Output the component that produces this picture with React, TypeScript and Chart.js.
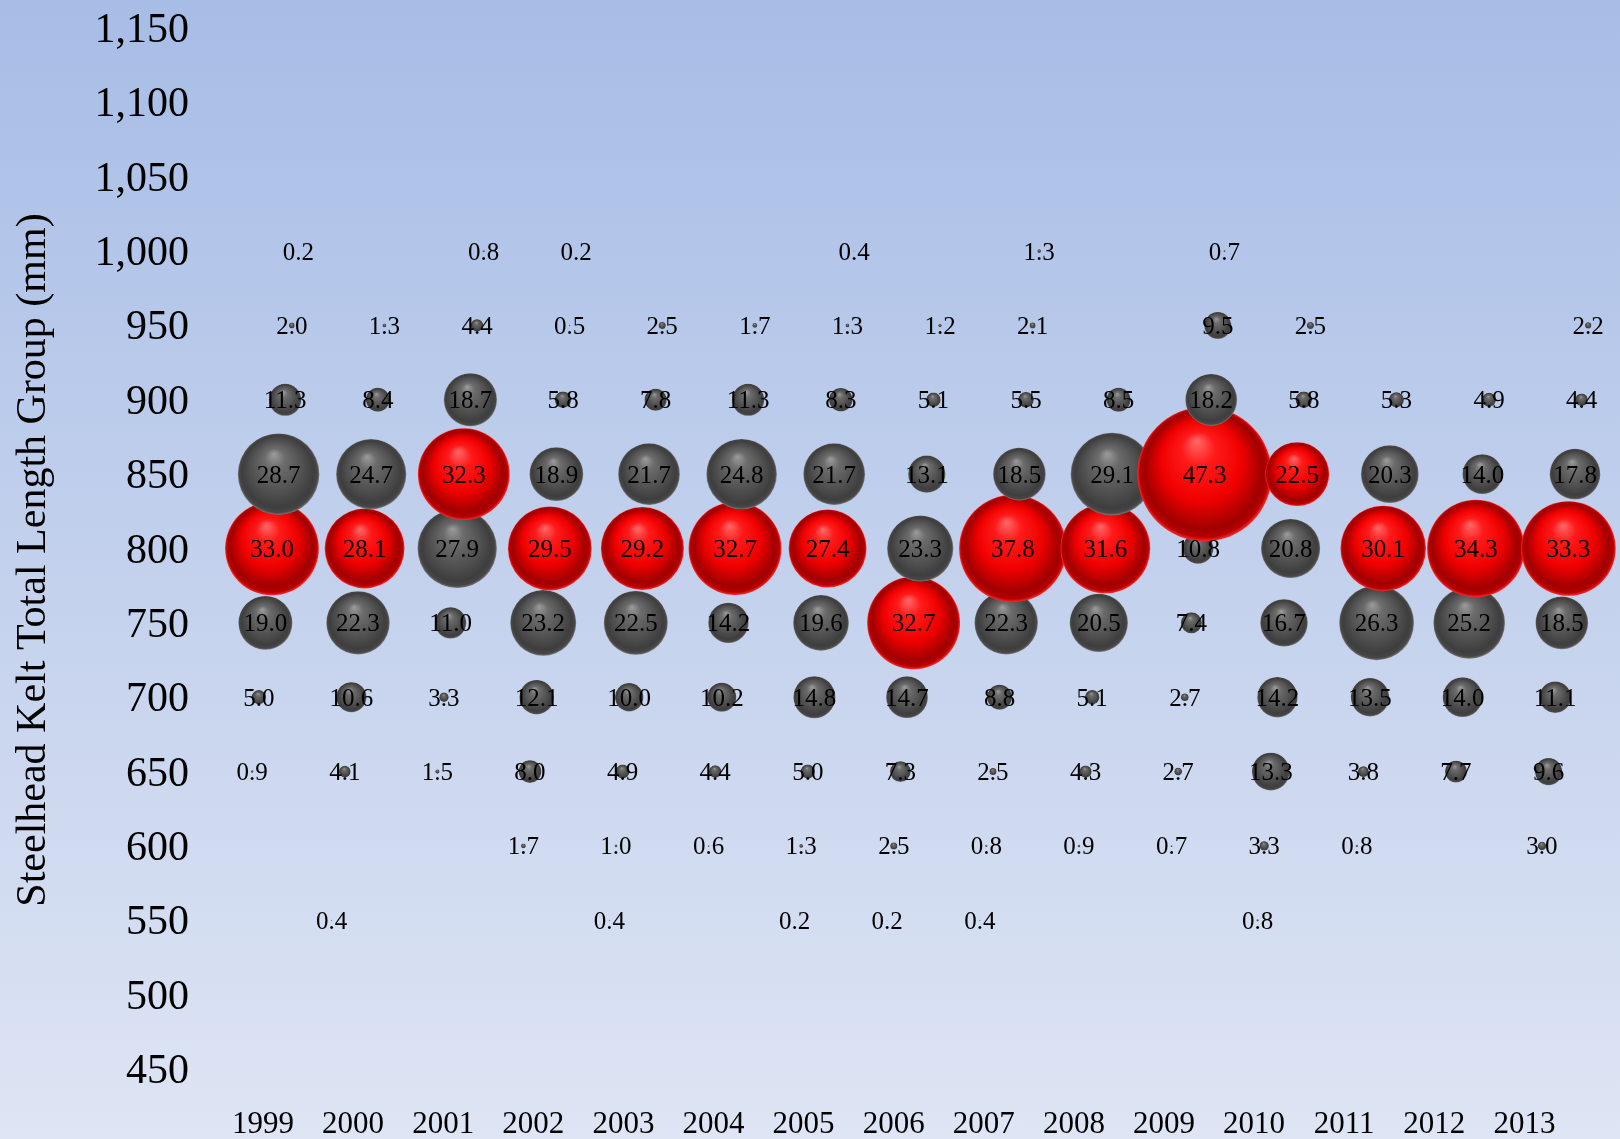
import React, { useEffect, useRef } from 'react';
import { Chart, registerables } from 'chart.js';

Chart.register(...registerables);

// ---- Data ----
const YEARS = ['1999', '2000', '2001', '2002', '2003', '2004', '2005', '2006', '2007', '2008', '2009', '2010', '2011', '2012', '2013'];
const LENGTH_GROUPS = [1000, 950, 900, 850, 800, 750, 700, 650, 600, 550];
const Y_TICKS_MIN = 450;
const Y_TICKS_MAX = 1150;
const Y_TICK_STEP = 50;

const PCT_1999 = [0.2, 2.0, 11.3, 28.7, 33.0, 19.0, 5.0, 0.9, null, null];
const PCT_2000 = [null, 1.3, 8.4, 24.7, 28.1, 22.3, 10.6, 4.1, null, 0.4];
const PCT_2001 = [0.8, 4.4, 18.7, 32.3, 27.9, 11.0, 3.3, 1.5, null, null];
const PCT_2002 = [0.2, 0.5, 5.8, 18.9, 29.5, 23.2, 12.1, 8.0, 1.7, null];
const PCT_2003 = [null, 2.5, 7.8, 21.7, 29.2, 22.5, 10.0, 4.9, 1.0, 0.4];
const PCT_2004 = [null, 1.7, 11.3, 24.8, 32.7, 14.2, 10.2, 4.4, 0.6, null];
const PCT_2005 = [0.4, 1.3, 8.3, 21.7, 27.4, 19.6, 14.8, 5.0, 1.3, 0.2];
const PCT_2006 = [null, 1.2, 5.1, 13.1, 23.3, 32.7, 14.7, 7.3, 2.5, 0.2];
const PCT_2007 = [1.3, 2.1, 5.5, 18.5, 37.8, 22.3, 8.8, 2.5, 0.8, 0.4];
const PCT_2008 = [null, null, 8.5, 29.1, 31.6, 20.5, 5.1, 4.3, 0.9, null];
const PCT_2009 = [0.7, 9.5, 18.2, 47.3, 10.8, 7.4, 2.7, 2.7, 0.7, null];
const PCT_2010 = [null, 2.5, 5.8, 22.5, 20.8, 16.7, 14.2, 13.3, 3.3, 0.8];
const PCT_2011 = [null, null, 5.3, 20.3, 30.1, 26.3, 13.5, 3.8, 0.8, null];
const PCT_2012 = [null, null, 4.9, 14.0, 34.3, 25.2, 14.0, 7.7, null, null];
const PCT_2013 = [null, 2.2, 4.4, 17.8, 33.3, 18.5, 11.1, 9.6, 3.0, null];

const PCT_BY_YEAR = [
  PCT_1999, PCT_2000, PCT_2001, PCT_2002, PCT_2003, PCT_2004, PCT_2005, PCT_2006,
  PCT_2007, PCT_2008, PCT_2009, PCT_2010, PCT_2011, PCT_2012, PCT_2013,
];

const Y_TITLE = 'Steelhead Kelt Total Length Group (mm)';

// ---- Layout / style constants ----
const W = 1620;
const H = 1139;
const AXIS_LEFT_WIDTH = 215;
const X_AXIS_HEIGHT = 70;
const TOP_PAD = 28;
const RADIUS_PER_PCT = 1.42;
const PERSPECTIVE_SKEW = 0.0713; // horizontal drift of a column per 50 mm (in column units)
const FONT = "'Liberation Serif', 'Times New Roman', serif";
const TITLE_X = 34;
const TITLE_Y = 560;

type Pt = { x: number; y: number; r: number; v: number; top: boolean };

function buildPoints(): Pt[] {
  const pts: Pt[] = [];
  PCT_BY_YEAR.forEach((col, i) => {
    const vals = col.filter((v) => v !== null) as number[];
    const mx = Math.max(...vals);
    for (let k = LENGTH_GROUPS.length - 1; k >= 0; k--) {
      const v = col[k];
      if (v === null || v === undefined) continue;
      const len = LENGTH_GROUPS[k];
      pts.push({
        x: i + (PERSPECTIVE_SKEW * (len - 800)) / 50,
        y: len,
        r: v * RADIUS_PER_PCT,
        v,
        top: v === mx,
      });
    }
  });
  return pts;
}

function sphereFill(c: any) {
  const chart = c.chart;
  const raw = c.raw as Pt | undefined;
  if (!raw || !chart.chartArea || !chart.scales.xb) return raw && raw.top ? '#ff0000' : '#555555';
  const x = chart.scales.xb.getPixelForValue(raw.x);
  const y = chart.scales.y.getPixelForValue(raw.y);
  const r = Math.max(raw.r, 0.5);
  const g = chart.ctx.createRadialGradient(x - r * 0.12, y - r * 0.5, 0, x, y, r);
  if (raw.top) {
    g.addColorStop(0, '#ff6a6a');
    g.addColorStop(0.25, '#ff1a1a');
    g.addColorStop(0.6, '#f00000');
    g.addColorStop(0.88, '#a00000');
    g.addColorStop(0.96, '#b80000');
    g.addColorStop(1, '#ff2a2a');
  } else {
    g.addColorStop(0, '#9c9c9c');
    g.addColorStop(0.25, '#6c6c6c');
    g.addColorStop(0.6, '#535353');
    g.addColorStop(0.88, '#3e3e3e');
    g.addColorStop(0.96, '#474747');
    g.addColorStop(1, '#787878');
  }
  return g;
}

const labelPlugin = {
  id: 'bubbleLabels',
  afterDatasetsDraw(chart: any) {
    const ctx = chart.ctx;
    const meta = chart.getDatasetMeta(0);
    const data = chart.data.datasets[0].data as Pt[];
    ctx.save();
    ctx.font = `25px ${FONT}`;
    ctx.fillStyle = '#000000';
    ctx.textAlign = 'center';
    ctx.textBaseline = 'middle';
    meta.data.forEach((el: any, i: number) => {
      ctx.fillText(data[i].v.toFixed(1), el.x, el.y + 2);
    });
    ctx.restore();
  },
};

const yTitlePlugin = {
  id: 'yTitle',
  afterDraw(chart: any) {
    const ctx = chart.ctx;
    ctx.save();
    ctx.translate(TITLE_X, TITLE_Y);
    ctx.rotate(-Math.PI / 2);
    ctx.font = `42px ${FONT}`;
    ctx.fillStyle = '#000000';
    ctx.textAlign = 'center';
    ctx.textBaseline = 'middle';
    ctx.fillText(Y_TITLE, 0, 0);
    ctx.restore();
  },
};

function zeroPadding(s: any) {
  s.paddingTop = 0;
  s.paddingBottom = 0;
  s.paddingLeft = 0;
  s.paddingRight = 0;
}

export default function App() {
  const ref = useRef<HTMLCanvasElement | null>(null);

  useEffect(() => {
    if (!ref.current) return;
    const points = buildPoints();
    const L = AXIS_LEFT_WIDTH;
    const plotW = W - L;
    // label axis: first year label at 263px, ~90.1px apart
    const labMin = -(263 - L) / 90.1;
    const labMax = labMin + plotW / 90.1;
    // bubble axis: first column at 272px, 92.6px apart
    const bubMin = -(272 - L) / 92.6;
    const bubMax = bubMin + plotW / 92.6;

    const chart = new Chart(ref.current, {
      type: 'bubble',
      data: {
        datasets: [
          {
            data: points as any,
            xAxisID: 'xb',
            yAxisID: 'y',
            backgroundColor: sphereFill as any,
            borderWidth: 0,
            hoverRadius: 0,
            clip: false as any,
          },
        ],
      },
      options: {
        animation: false,
        responsive: true,
        maintainAspectRatio: false,
        events: [],
        layout: { autoPadding: false, padding: { top: TOP_PAD, bottom: 0, left: 0, right: 0 } },
        plugins: { legend: { display: false }, tooltip: { enabled: false } },
        scales: {
          x: {
            type: 'linear',
            position: 'bottom',
            min: labMin,
            max: labMax,
            afterBuildTicks: (s: any) => {
              s.ticks = YEARS.map((_, i) => ({ value: i }));
            },
            afterFit: (s: any) => {
              s.height = X_AXIS_HEIGHT;
              zeroPadding(s);
            },
            grid: { display: false, drawTicks: false },
            border: { display: false },
            ticks: {
              autoSkip: false,
              maxRotation: 0,
              padding: 37,
              color: '#000000',
              font: { family: FONT, size: 31 },
              callback: (v: any) => YEARS[Math.round(Number(v))] ?? '',
            },
          },
          xb: {
            type: 'linear',
            display: false,
            min: bubMin,
            max: bubMax,
            afterFit: zeroPadding,
          },
          y: {
            type: 'linear',
            position: 'left',
            min: Y_TICKS_MIN,
            max: Y_TICKS_MAX,
            afterFit: (s: any) => {
              s.width = AXIS_LEFT_WIDTH;
              zeroPadding(s);
            },
            grid: { display: false, drawTicks: false },
            border: { display: false },
            ticks: {
              stepSize: Y_TICK_STEP,
              padding: 26,
              labelOffset: 3,
              color: '#000000',
              font: { family: FONT, size: 42 },
            },
            title: { display: false },
          },
        },
      },
      plugins: [labelPlugin, yTitlePlugin],
    });
    return () => chart.destroy();
  }, []);

  return (
    <div
      style={{
        position: 'fixed',
        left: 0,
        top: 0,
        width: W,
        height: H,
        background: 'linear-gradient(to bottom, #a7bde6 0%, #c3d1ed 50%, #dee5f4 100%)',
      }}
    >
      <canvas ref={ref} />
    </div>
  );
}
